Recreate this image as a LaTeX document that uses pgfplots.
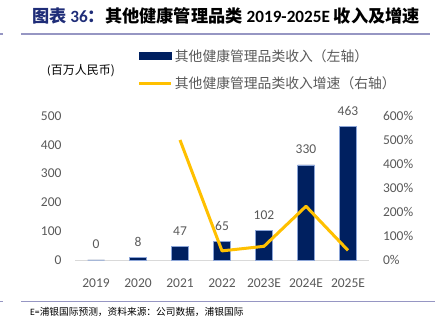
\documentclass[border=0pt]{standalone}
\usepackage{fontspec}
\usepackage{pgfplots}
\pgfplotsset{compat=1.18}
\setmainfont{Carlito}
\newfontfamily\cjk{Noto Sans CJK SC}
\definecolor{navy}{RGB}{0,32,96}
\definecolor{baredge}{RGB}{140,165,215}
\definecolor{gold}{RGB}{255,192,0}
\definecolor{tickgray}{RGB}{89,89,89}
\definecolor{rulec}{RGB}{150,150,195}
\definecolor{axisgray}{RGB}{217,217,217}
\definecolor{titleblue}{RGB}{31,45,120}
\begin{document}
\begin{tikzpicture}[x=1pt,y=1pt]
\path[use as bounding box] (0pt,0pt) rectangle (441pt,331pt);
% title
\node[anchor=base west, inner sep=0] at (32pt,308pt) {\fontsize{17.2}{19}\selectfont\bfseries\color{titleblue}{\cjk 图表} 36{\cjk ：}\color{black}{\cjk 其他健康管理品类} 2019-2025E {\cjk 收入及增速}};
\draw[rulec, line width=1.3pt] (21pt,297pt) -- (430pt,297pt);
\draw[rulec, line width=1.3pt] (0pt,297pt) -- (3pt,297pt);
\draw[rulec, line width=1.3pt] (21pt,29.3pt) -- (435pt,29.3pt);
\draw[rulec, line width=1.3pt] (0pt,29.3pt) -- (3pt,29.3pt);
% unit
\node[anchor=west, inner sep=0] at (47pt,260pt) {\fontsize{12}{14}\selectfont(\cjk 百万人民币)};
% footnote
\node[anchor=west, inner sep=0] at (30pt,19pt) {\fontsize{9.7}{12}\selectfont E={\cjk 浦银国际预测，资料来源：公司数据，浦银国际}};
\begin{axis}[
  at={(75pt,71pt)}, anchor=south west,
  width=294pt, height=144pt, scale only axis,
  xmin=-0.5, xmax=6.5, ymin=0, ymax=500,
  ytick={0,100,...,500},
  xtick={0,...,6},
  xticklabels={2019,2020,2021,2022,2023E,2024E,2025E},
  axis y line*=left, axis x line*=bottom,
  y axis line style={draw=none},
  x axis line style={draw=axisgray, line width=0.8pt, -},
  major tick length=0pt,
  /pgf/number format/assume math mode=true,
  tick label style={color=tickgray, font=\fontsize{13.5}{15}\selectfont},
  xticklabel style={yshift=-15pt},
  yticklabel style={xshift=-10pt},
  clip=false,
  nodes near coords,
  every node near coord/.append style={anchor=center, yshift=15.5pt, color=tickgray, font=\fontsize{13.5}{15}\selectfont},
]
\addplot[ybar, bar width=17pt, fill=navy, draw=baredge, line width=0.5pt] coordinates {(0,0) (1,8) (2,47) (3,65) (4,102) (5,330) (6,463)};
\end{axis}
\begin{axis}[
  at={(75pt,71pt)}, anchor=south west,
  width=294pt, height=144pt, scale only axis,
  xmin=-0.5, xmax=6.5, ymin=0, ymax=600,
  ytick={0,100,...,600},
  yticklabel={\pgfmathprintnumber{\tick}\%},
  axis y line*=right, axis x line=none,
  y axis line style={draw=none},
  major tick length=0pt,
  /pgf/number format/assume math mode=true,
  tick label style={color=tickgray, font=\fontsize{13.5}{15}\selectfont},
  yticklabel style={xshift=10.5pt},
  clip=false,
  legend style={at={(0.2133,1.479)}, anchor=north west, draw=none, fill=none, inner sep=0pt,
    font=\fontsize{13.8}{15}\selectfont, text=tickgray, row sep=10pt,
    nodes={inner xsep=2pt, inner ysep=2pt}},
  legend cell align=left,
]
\addlegendimage{legend image code/.code={\fill[navy] (0pt,-3.5pt) rectangle (32pt,3.5pt);}}
\addlegendentry{\cjk 其他健康管理品类收入（左轴）}
\addplot[gold, line width=3pt, line join=round, legend image code/.code={\draw[gold, line width=3pt] (0pt,0pt) -- (32pt,0pt);}] coordinates {(2,500) (3,38) (4,57) (5,224) (6,40)};
\addlegendentry{\cjk 其他健康管理品类收入增速（右轴）}
\end{axis}
\end{tikzpicture}
\end{document}
